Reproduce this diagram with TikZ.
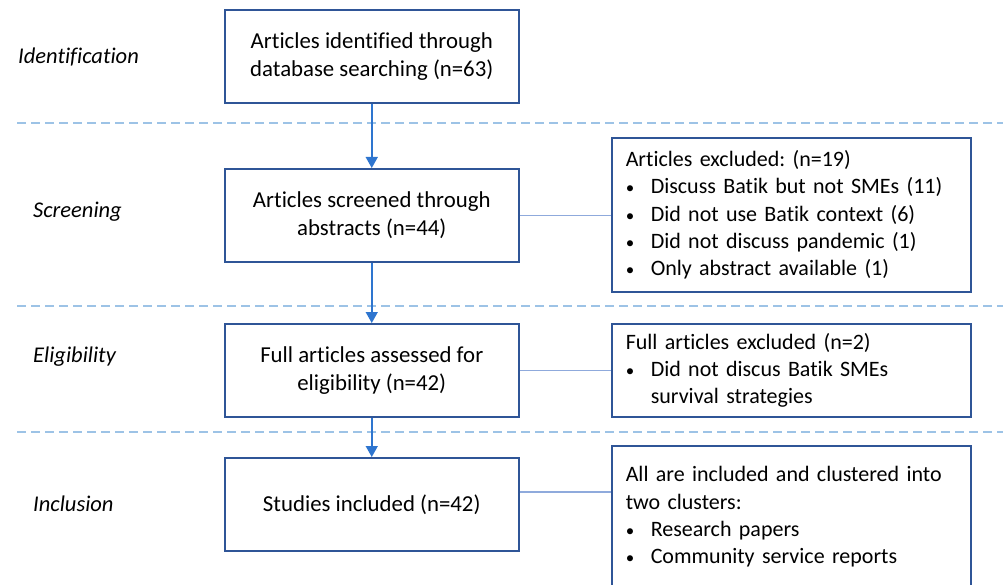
\documentclass[tikz,border=0pt]{standalone}
\usepackage{fontspec}
\setmainfont{Carlito}[Ligatures=NoCommon]
\usetikzlibrary{positioning,arrows.meta}
\definecolor{boxblue}{HTML}{2F5597}
\definecolor{arrowblue}{HTML}{2E75CF}
\definecolor{linkblue}{HTML}{8FAADC}
\definecolor{dashblue}{HTML}{9DC3E6}
\newcommand{\bul}{\makebox[25pt][l]{\fontsize{17}{27.3}\selectfont\textbullet}}
\newcommand{\hang}{\hspace*{25pt}}
\frenchspacing
\begin{document}
\begin{tikzpicture}[x=1pt,y=-1pt,
font=\fontsize{22.8}{27.8}\selectfont,
stage/.style={draw=boxblue,line width=2pt,minimum width=294pt,minimum height=93pt,align=center,inner sep=0pt},
note/.style={draw=boxblue,line width=2pt,minimum width=359pt,text width=331pt,align=left,inner sep=0pt,
  font=\fontsize{22}{27.3}\selectfont},
phase/.style={anchor=west,inner sep=0pt,font=\fontsize{22.5}{27.8}\selectfont\itshape},
flow/.style={arrowblue,line width=1.5pt,-{Triangle[width=12pt,length=11pt]}},
link/.style={linkblue,line width=1.4pt},
sep/.style={dashblue,line width=1.4pt,dash pattern=on 9pt off 5pt}]
\useasboundingbox (0,0) rectangle (1003,585);
% stage separators
\draw[sep] (17,123) -- (1003,123);
\draw[sep] (17,306) -- (1003,306);
\draw[sep] (17,432) -- (1003,432);
% phases
\node[phase] (pident) at (18,57) {Identification};
\node[phase] (pscreen) at (33,212) {Screening};
\node[phase] (pelig) at (33,357) {Eligibility};
\node[phase] (pincl) at (33,504) {Inclusion};
% main flow
\node[stage] (ident) at (371.75,56.5) {Articles identified through\\database searching (n=63)};
\node[stage] (screen) at (371.75,215.5) {Articles screened through\\abstracts (n=44)};
\node[stage] (elig) at (371.75,370.5) {Full articles assessed for\\eligibility (n=42)};
\node[stage] (incl) at (371.75,504.5) {Studies included (n=42)};
% side notes
\node[note,minimum height=154pt] (excl) at (791.25,215) {Articles excluded: (n=19)\\
\bul Discuss Batik but not SMEs (11)\\
\bul Did not use Batik context (6)\\
\bul Did not discuss pandemic (1)\\
\bul Only abstract available (1)};
\node[note,minimum height=93pt] (fullexcl) at (791.25,370.5) {Full articles excluded (n=2)\\
\bul Did not discus Batik SMEs\\
\hang survival strategies};
\node[note,minimum height=142pt] (clusters) at (791.25,517) {All are included and clustered into\\
two clusters:\\
\bul Research papers\\
\bul Community service reports};
% connectors
\draw[flow] (ident) -- (screen);
\draw[flow] (screen) -- (elig);
\draw[flow] (elig) -- (incl);
\draw[link] (screen.east) -- (screen.east -| excl.west);
\draw[link] (elig.east) -- (fullexcl.west);
\draw[link] ([yshift=12.5pt]incl.east) coordinate (inclout) -- (inclout -| clusters.west);
\end{tikzpicture}
\end{document}
